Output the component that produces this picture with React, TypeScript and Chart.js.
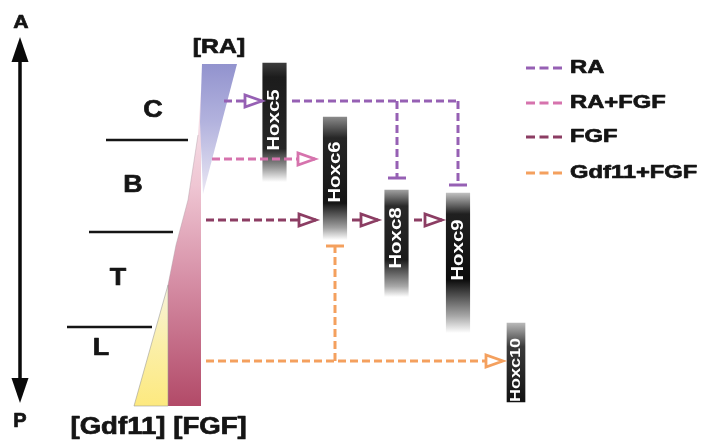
import { useEffect, useRef } from 'react';
import { Chart, registerables } from 'chart.js';

Chart.register(...registerables);

const FONT = '"Liberation Sans", Arial, Helvetica, sans-serif';

// ---- data (diagram coordinates, 701 x 441 space) ----
const zoneLabels = ['C', 'B', 'T', 'L'];
const zoneLabelX = [153, 133, 118, 101];
const zoneLabelY = [110, 185, 278, 348];
const zoneLineY = [140, 232, 327];
const zoneLineX0 = [106, 89, 67];
const zoneLineX1 = [188, 173, 152];

const geneLabels = ['Hoxc5', 'Hoxc6', 'Hoxc8', 'Hoxc9', 'Hoxc10'];
const geneX = [274.5, 335, 396.5, 458, 516];
const geneTop = [63, 117, 190, 193, 323];
const geneBottom = [182, 240, 297, 333, 402];
const geneTextY = [120, 172, 238, 250, 370];

const signalNames = ['RA', 'RA+FGF', 'FGF', 'Gdf11+FGF'];
const legendY = [68, 103, 137, 173];

// segments per signal: [x0, y0, x1, y1, end]
const raPaths: [number, number, number, number, string][] = [
  [224, 101, 262, 101, 'arrow'],
  [292, 101, 459, 101, 'none'],
  [397, 101, 397, 178, 'bar'],
  [458, 101, 458, 185, 'bar'],
];
const raFgfPaths: [number, number, number, number, string][] = [[212, 159, 315, 159, 'arrow']];
const fgfPaths: [number, number, number, number, string][] = [
  [206, 220, 316, 220, 'arrow'],
  [352, 220, 378, 220, 'arrow'],
  [414, 220, 442, 220, 'arrow'],
];
const gdfFgfPaths: [number, number, number, number, string][] = [
  [206, 361, 503, 361, 'arrow'],
  [335, 361, 335, 246, 'bar'],
];

const raWedge = [[202, 64], [237, 64], [203, 194], [200, 122]];
const fgfWedge = [[201, 66], [201, 406], [168, 406], [168, 285], [176, 245], [188, 200], [198, 135], [201, 90]];
const gdfWedge = [[134, 406], [168, 406], [168, 285]];
const wedgeEdge = [[168, 285], [176, 245], [188, 200], [198, 135]];

const apAxis = [20, 60, 20, 380];
const topLabels = ['[RA]', '[Gdf11]', '[FGF]', 'A', 'P'];
const topLabelX = [219, 118, 210, 21, 20];
const topLabelY = [47, 428, 428, 23, 421];

// ---- styles ----
const signalColors = ['#9660b4', '#d673ad', '#8c3d63', '#f4a05e'];
const geneShades: [number, string][][] = [
  [[0, '#3c3c3c'], [0.12, '#1c1c1c'], [0.72, '#262626'], [0.88, '#9a9a9a'], [1, '#ffffff']],
  [[0, '#8a8a8a'], [0.17, '#262626'], [0.7, '#151515'], [0.9, '#a0a0a0'], [1, '#ffffff']],
  [[0, '#a0a0a0'], [0.15, '#2a2a2a'], [0.65, '#1a1a1a'], [0.9, '#a8a8a8'], [1, '#ffffff']],
  [[0, '#c0c0c0'], [0.15, '#202020'], [0.62, '#0c0c0c'], [0.88, '#a8a8a8'], [1, '#ffffff']],
  [[0, '#b8b8b8'], [0.3, '#3a3a3a'], [1, '#111111']],
];

function txt(ctx: CanvasRenderingContext2D, s: string, x: number, y: number, size: number, sx: number, color = '#151515', rot = 0, align: CanvasTextAlign = 'center', weight = 0.7) {
  ctx.save();
  ctx.translate(x, y);
  if (rot) ctx.rotate(rot);
  ctx.scale(sx, 1);
  ctx.font = `bold ${size}px ${FONT}`;
  ctx.textAlign = align;
  ctx.textBaseline = 'middle';
  ctx.fillStyle = color;
  ctx.fillText(s, 0, 0);
  if (weight > 0) {
    ctx.strokeStyle = color;
    ctx.lineWidth = weight;
    ctx.lineJoin = 'round';
    ctx.setLineDash([]);
    ctx.strokeText(s, 0, 0);
  }
  ctx.restore();
}

const diagramPlugin = {
  id: 'diagram',
  beforeDatasetsDraw(chart: any) {
    const ctx: CanvasRenderingContext2D = chart.ctx;
    const xs = chart.scales.x;
    const ys = chart.scales.y;
    const trace = (pts: number[][]) => {
      ctx.beginPath();
      pts.forEach((p, i) => {
        const px = xs.getPixelForValue(p[0]);
        const py = ys.getPixelForValue(p[1]);
        if (i === 0) ctx.moveTo(px, py);
        else ctx.lineTo(px, py);
      });
    };
    const poly = (pts: number[][], fill: any, stroke?: string) => {
      trace(pts);
      ctx.closePath();
      ctx.fillStyle = fill;
      ctx.fill();
      if (stroke) {
        ctx.strokeStyle = stroke;
        ctx.lineWidth = 0.8;
        ctx.stroke();
      }
    };
    const vg = (y0: number, y1: number, stops: [number, string][]) => {
      const g = ctx.createLinearGradient(0, ys.getPixelForValue(y0), 0, ys.getPixelForValue(y1));
      stops.forEach(([o, c]) => g.addColorStop(o, c));
      return g;
    };
    ctx.save();
    poly(fgfWedge, vg(90, 406, [[0, '#f8eaf0'], [0.3, '#efc6d3'], [0.6, '#d68fa6'], [1, '#b24a68']]));
    poly(gdfWedge, vg(285, 406, [[0, '#f7f2dc'], [0.5, '#fbefa8'], [1, '#fde97f']]), 'rgba(150,150,150,0.7)');
    trace(wedgeEdge);
    ctx.strokeStyle = 'rgba(170,150,160,0.5)';
    ctx.lineWidth = 0.8;
    ctx.stroke();
    poly(raWedge, vg(64, 194, [[0, '#9293ce'], [0.45, '#b3b3de'], [1, '#ebe8f4']]));
    ctx.restore();
  },
  afterDatasetsDraw(chart: any) {
    const ctx: CanvasRenderingContext2D = chart.ctx;
    const xs = chart.scales.x;
    const ys = chart.scales.y;
    ctx.save();
    // arrow heads
    chart.data.datasets.forEach((ds: any, i: number) => {
      if (!ds.arrowEnd && !ds.apArrow) return;
      const pts = chart.getDatasetMeta(i).data;
      const a = pts[0];
      const b = pts[pts.length - 1];
      const head = (tip: any, from: any, len: number, hw: number, filled: boolean) => {
        const dx = tip.x - from.x;
        const dy = tip.y - from.y;
        const d = Math.hypot(dx, dy) || 1;
        const ux = dx / d;
        const uy = dy / d;
        const bx = tip.x - ux * len;
        const by = tip.y - uy * len;
        ctx.beginPath();
        ctx.moveTo(tip.x, tip.y);
        ctx.lineTo(bx - uy * hw, by + ux * hw);
        ctx.lineTo(bx + uy * hw, by - ux * hw);
        ctx.closePath();
        ctx.setLineDash([]);
        ctx.lineJoin = 'miter';
        if (filled) {
          ctx.fillStyle = ds.borderColor;
          ctx.fill();
        } else {
          ctx.fillStyle = '#ffffff';
          ctx.fill();
          ctx.strokeStyle = ds.borderColor;
          ctx.lineWidth = 2.8;
          ctx.stroke();
        }
      };
      if (ds.apArrow) {
        head({ x: a.x, y: a.y - 23 }, a, 25, 8.5, true);
        head({ x: b.x, y: b.y + 23 }, b, 25, 8.5, true);
      } else {
        head(b, a, 17, 6, false);
      }
    });
    // gene labels
    chart.data.datasets.forEach((ds: any, i: number) => {
      if (!ds.genes) return;
      const meta = chart.getDatasetMeta(i);
      meta.data.forEach((el: any, j: number) => {
        const gi = ds.genes[j];
        const label = geneLabels[gi];
        txt(ctx, label, el.x, ys.getPixelForValue(geneTextY[gi]), label.length > 5 ? 15 : 17, 1.2, '#ffffff', -Math.PI / 2, 'center', 0);
      });
    });
    // zone labels
    zoneLabels.forEach((s, i) => txt(ctx, s, xs.getPixelForValue(zoneLabelX[i]), ys.getPixelForValue(zoneLabelY[i]), 24, 1.12));
    // other labels
    const tSizes = [21, 23, 23, 19, 20];
    const tSx = [1.18, 1.2, 1.2, 1.12, 1.0];
    topLabels.forEach((s, i) => txt(ctx, s, xs.getPixelForValue(topLabelX[i]), ys.getPixelForValue(topLabelY[i]), tSizes[i], tSx[i]));
    // legend
    signalNames.forEach((s, i) => {
      const y = ys.getPixelForValue(legendY[i]);
      ctx.beginPath();
      ctx.setLineDash([9, 4.5]);
      ctx.lineWidth = 3;
      ctx.strokeStyle = signalColors[i];
      ctx.moveTo(xs.getPixelForValue(526), y);
      ctx.lineTo(xs.getPixelForValue(562), y);
      ctx.stroke();
      txt(ctx, s, xs.getPixelForValue(570), y, 19, 1.25, '#151515', 0, 'left');
    });
    ctx.restore();
  },
};

export default function App() {
  const ref = useRef<HTMLCanvasElement>(null);
  useEffect(() => {
    const canvas = ref.current;
    if (!canvas) return;
    const datasets: any[] = [];

    const geneFill = (c: any) => {
      if (c.type !== 'data') return '#222';
      const ds = c.dataset;
      const gi = ds.genes[c.dataIndex];
      const ys = c.chart.scales.y;
      if (!ys) return '#222';
      const y0 = ys.getPixelForValue(geneTop[gi]);
      const y1 = ys.getPixelForValue(geneBottom[gi]);
      if (!Number.isFinite(y0) || !Number.isFinite(y1)) return '#222';
      const g = c.chart.ctx.createLinearGradient(0, y0, 0, y1);
      geneShades[gi].forEach(([o, col]) => g.addColorStop(o, col));
      return g;
    };

    const pathSets = [raPaths, raFgfPaths, fgfPaths, gdfFgfPaths];
    pathSets.forEach((paths, si) => {
      const col = signalColors[si];
      paths.forEach((seg) => {
        datasets.push({
          type: 'line',
          data: [{ x: seg[0], y: seg[1] }, { x: seg[2], y: seg[3] }],
          borderColor: col,
          borderWidth: 3,
          borderDash: [8, 4],
          borderCapStyle: 'butt',
          pointRadius: [0, seg[4] === 'bar' ? 9 : 0],
          pointStyle: 'line',
          pointBorderColor: col,
          pointBorderWidth: 3,
          fill: false,
          tension: 0,
          clip: false,
          arrowEnd: seg[4] === 'arrow',
        });
      });
    });

    zoneLineY.forEach((y, i) => {
      datasets.push({
        type: 'line',
        data: [{ x: zoneLineX0[i], y }, { x: zoneLineX1[i], y }],
        borderColor: '#151515',
        borderWidth: 2.5,
        pointRadius: 0,
        fill: false,
      });
    });

    datasets.push({
      type: 'line',
      data: [{ x: apAxis[0], y: apAxis[1] }, { x: apAxis[2], y: apAxis[3] }],
      borderColor: '#0a0a0a',
      borderWidth: 3.5,
      pointRadius: 0,
      fill: false,
      apArrow: true,
    });

    datasets.push({
      type: 'bar',
      genes: [0, 1, 2, 3],
      data: [0, 1, 2, 3].map((gi) => ({ x: geneX[gi], y: [geneTop[gi], geneBottom[gi]] })),
      barThickness: 23.5,
      grouped: false,
      borderWidth: 0,
      backgroundColor: geneFill,
    });
    datasets.push({
      type: 'bar',
      genes: [4],
      data: [{ x: geneX[4], y: [geneTop[4], geneBottom[4]] }],
      barThickness: 18,
      grouped: false,
      borderWidth: 0,
      backgroundColor: geneFill,
    });

    const chart = new Chart(canvas, {
      type: 'scatter',
      data: { datasets },
      options: {
        animation: false,
        responsive: false,
        devicePixelRatio: 1,
        events: [],
        layout: { padding: 0, autoPadding: false },
        plugins: { legend: { display: false }, tooltip: { enabled: false } },
        scales: {
          x: { type: 'linear', min: 0, max: 701, display: false, offset: false, grid: { offset: false } },
          y: { type: 'linear', min: 0, max: 441, reverse: true, display: false, beginAtZero: false },
        },
      } as any,
      plugins: [diagramPlugin as any],
    });
    chart.update();
    return () => chart.destroy();
  }, []);

  return (
    <div style={{ position: 'fixed', left: 0, top: 0, width: 701, height: 441, background: '#ffffff' }}>
      <canvas ref={ref} width={701} height={441} style={{ display: 'block', width: 701, height: 441 }} />
    </div>
  );
}
